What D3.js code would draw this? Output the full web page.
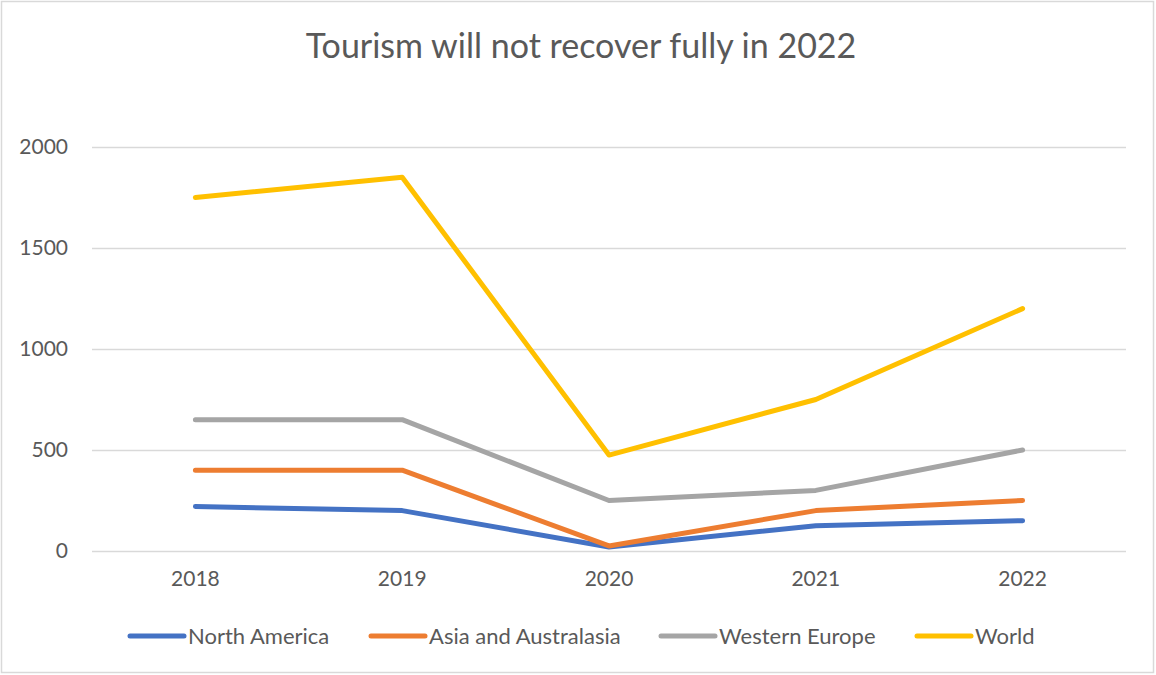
<!DOCTYPE html>
<html>
<head>
<meta charset="utf-8">
<script src="https://cdn.jsdelivr.net/npm/d3@7"></script>
<style>
	body { margin: 0; background: #fff; }
	svg { display: block; font-family: Lato, "Open Sans", sans-serif; }
</style>
</head>
<body>
<div id="chart"></div>
<script>
const years = ["2018", "2019", "2020", "2021", "2022"];
const seriesNames = ["North America", "Asia and Australasia", "Western Europe", "World"];
const northAmerica = [220, 200, 20, 125, 150];
const asiaAustralasia = [400, 400, 25, 200, 250];
const westernEurope = [650, 650, 250, 300, 500];
const world = [1750, 1850, 475, 750, 1200];
const yTicks = [0, 500, 1000, 1500, 2000];
const colors = ["#4472C4", "#ED7D31", "#A5A5A5", "#FFC000"];

const allSeries = [northAmerica, asiaAustralasia, westernEurope, world];

const width = 1156;
const height = 675;
const margin = { top: 147, right: 30, bottom: 124, left: 92 };

const svg = d3
	.select("#chart")
	.append("svg")
	.attr("width", width)
	.attr("height", height);

// outer border
svg
	.append("rect")
	.attr("x", 1.5)
	.attr("y", 1.5)
	.attr("width", width - 4)
	.attr("height", height - 4)
	.attr("fill", "#fff")
	.attr("stroke", "#D9D9D9")
	.attr("stroke-width", 1.5);

svg
	.append("text")
	.attr("x", 581)
	.attr("y", 58)
	.attr("text-anchor", "middle")
	.attr("fill", "#595959")
	.style("font-size", "34px")
	.text("Tourism will not recover fully in 2022");

const x = d3
	.scaleBand()
	.domain(years)
	.range([margin.left, width - margin.right]);

const y = d3
	.scaleLinear()
	.domain([0, 2000])
	.range([height - margin.bottom, margin.top]);

// gridlines
svg
	.append("g")
	.selectAll("line")
	.data(yTicks)
	.join("line")
	.attr("x1", margin.left)
	.attr("x2", width - margin.right)
	.attr("y1", (d) => Math.round(y(d)) + 0.5)
	.attr("y2", (d) => Math.round(y(d)) + 0.5)
	.attr("stroke", "#D9D9D9")
	.attr("stroke-width", 1.5);

// y axis labels
const yAxis = svg
	.append("g")
	.attr("transform", `translate(${margin.left - 24},0)`)
	.call(d3.axisLeft(y).tickValues(yTicks).tickFormat(d3.format("d")).tickSize(0).tickPadding(0));
yAxis.select(".domain").remove();
yAxis
	.selectAll("text")
	.attr("fill", "#595959")
	.style("font-size", "21px")
	.style("font-family", "Lato, 'Open Sans', sans-serif");

// x axis labels
const xAxis = svg
	.append("g")
	.attr("transform", `translate(0,${height - margin.bottom + 20})`)
	.call(d3.axisBottom(x).tickSize(0).tickPadding(0));
xAxis.select(".domain").remove();
xAxis
	.selectAll("text")
	.attr("fill", "#595959")
	.style("font-size", "21px")
	.style("font-family", "Lato, 'Open Sans', sans-serif");

const line = d3
	.line()
	.x((d, i) => x(years[i]) + x.bandwidth() / 2)
	.y((d) => y(d));

svg
	.append("g")
	.selectAll("path")
	.data(allSeries)
	.join("path")
	.attr("d", line)
	.attr("fill", "none")
	.attr("stroke", (d, i) => colors[i])
	.attr("stroke-width", 5)
	.attr("stroke-linejoin", "round")
	.attr("stroke-linecap", "round");

// legend
const legendX = [130, 371, 661, 917];
const legend = svg
	.append("g")
	.selectAll("g")
	.data(seriesNames)
	.join("g")
	.attr("transform", (d, i) => `translate(${legendX[i]},636)`);

legend
	.append("line")
	.attr("x1", 0)
	.attr("x2", 54)
	.attr("stroke", (d, i) => colors[i])
	.attr("stroke-width", 5)
	.attr("stroke-linecap", "round");

legend
	.append("text")
	.attr("x", 58)
	.attr("dy", "0.35em")
	.attr("fill", "#595959")
	.style("font-size", "22px")
	.text((d) => d);
</script>
</body>
</html>
